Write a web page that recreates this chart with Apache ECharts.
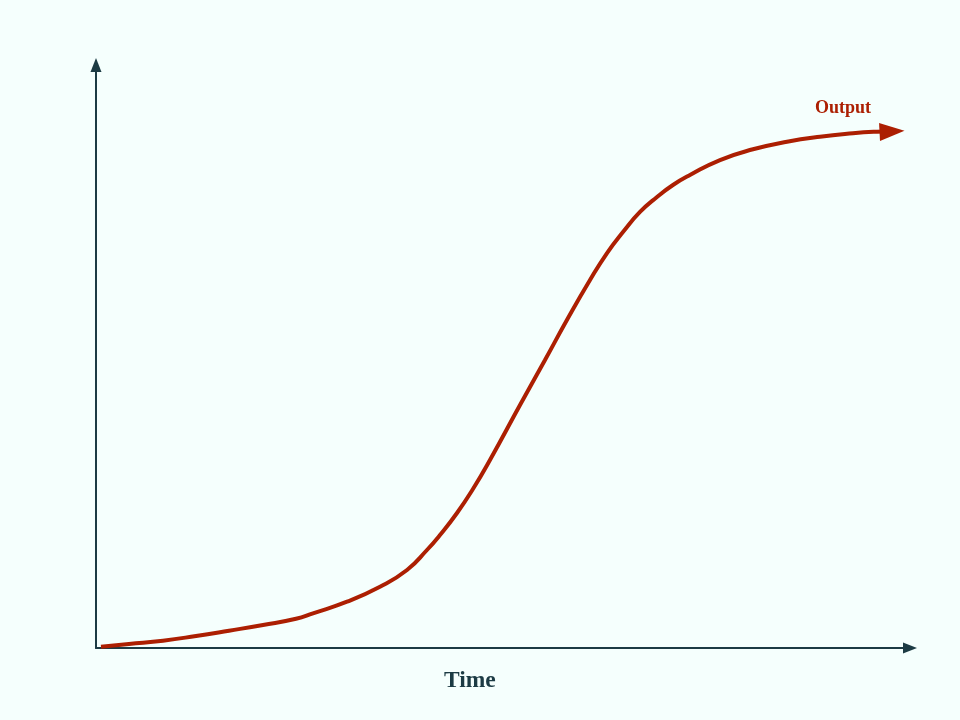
<!DOCTYPE html>
<html>
<head>
<meta charset="utf-8">
<script src="https://cdn.jsdelivr.net/npm/echarts@6/dist/echarts.min.js"></script>
<style>html,body{margin:0;padding:0;background:#f5fffd;}#chart{width:960px;height:720px;}</style>
</head>
<body>
<div id="chart"></div>
<script>
var timeValues = [0.61, 4.05, 8.23, 12.29, 16.34, 20.52, 24.57, 26.66, 30.84, 34.89, 38.21, 40.66, 42.26, 44.35, 46.31, 48.40, 52.09, 55.16, 57.99, 60.69, 62.78, 64.74, 66.83, 68.92, 70.88, 72.97, 76.66, 80.71, 84.89, 88.94, 93.00, 95.95, 97.79];
var outputValues = [0.22, 0.69, 1.25, 2.06, 2.97, 3.95, 5.01, 5.95, 7.94, 10.51, 13.38, 16.81, 19.38, 23.16, 27.27, 32.25, 41.68, 49.40, 56.60, 63.12, 67.75, 71.36, 74.79, 77.36, 79.42, 81.13, 83.70, 85.54, 86.84, 87.70, 88.28, 88.56, 88.63];
var xLabel = 'Time';
var seriesLabel = 'Output';

var data = timeValues.map(function (t, i) { return [t, outputValues[i]]; });
var last = data.length - 1;
var axisColor = '#1c3b44';
var curveColor = '#ac1f02';

var chart = echarts.init(document.getElementById('chart'));
chart.setOption({
  backgroundColor: '#f5fffd',
  animation: false,
  grid: { left: 96, right: 50, top: 65, bottom: 72 },
  xAxis: {
    type: 'value', min: 0, max: 100,
    axisLine: { show: true, symbol: ['none', 'triangle'], symbolSize: [11, 14], lineStyle: { color: axisColor, width: 2 } },
    axisTick: { show: false }, axisLabel: { show: false }, splitLine: { show: false }
  },
  yAxis: {
    type: 'value', min: 0, max: 100,
    axisLine: { show: true, symbol: ['none', 'triangle'], symbolSize: [11, 14], lineStyle: { color: axisColor, width: 2 } },
    axisTick: { show: false }, axisLabel: { show: false }, splitLine: { show: false }
  },
  graphic: [
    { type: 'text', x: 444, y: 681, style: { text: xLabel, fill: axisColor, font: 'bold 23.5px "Liberation Serif", serif', verticalAlign: 'middle' } },
    { type: 'text', x: 815, y: 108, style: { text: seriesLabel, fill: curveColor, font: 'bold 18px "Liberation Serif", serif', verticalAlign: 'middle' } }
  ],
  series: [{
    type: 'line',
    name: seriesLabel,
    data: data,
    smooth: true,
    showSymbol: true,
    symbol: function (v, p) { return p.dataIndex === last ? 'triangle' : 'none'; },
    symbolSize: [18, 25],
    symbolRotate: -87,
    itemStyle: { color: curveColor },
    lineStyle: { color: curveColor, width: 4 }
  }]
});
</script>
</body>
</html>
